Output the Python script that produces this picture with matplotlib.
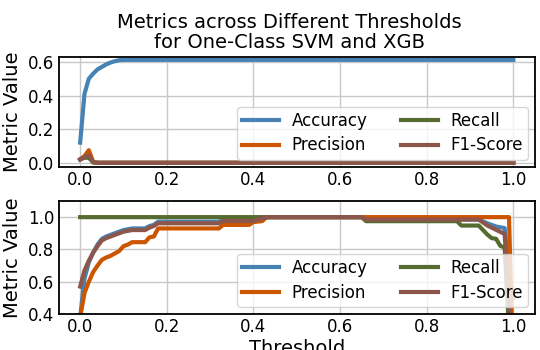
import matplotlib
matplotlib.use("Agg")
import matplotlib.pyplot as plt

# ---------------- data ----------------
# Top panel (One-Class SVM)
svm_acc_t = [0.0, 0.01, 0.02, 0.03, 0.04, 0.05, 0.06, 0.07, 0.08, 0.09, 0.10, 1.0]
svm_acc_v = [0.12, 0.41, 0.50, 0.53, 0.555, 0.57, 0.585, 0.596, 0.604, 0.61, 0.612, 0.612]
svm_prec_t = [0.0, 0.01, 0.02, 0.03, 0.04, 1.0]
svm_prec_v = [0.02, 0.04, 0.075, 0.005, 0.0, 0.0]
svm_rec_t = [0.0, 0.01, 0.02, 0.03, 0.04, 1.0]
svm_rec_v = [0.02, 0.03, 0.03, 0.002, 0.0, 0.0]
svm_f1_t = [0.0, 0.01, 0.02, 0.03, 0.04, 1.0]
svm_f1_v = [0.02, 0.035, 0.045, 0.004, 0.0, 0.0]

# Bottom panel (XGB)
xgb_acc_t = [0.0, 0.01, 0.02, 0.03, 0.04, 0.05, 0.06, 0.07, 0.08, 0.09, 0.10, 0.11, 0.12,
             0.15, 0.16, 0.17, 0.18, 0.32, 0.33, 0.40, 0.41, 0.42, 0.43, 0.65, 0.66,
             0.92, 0.94, 0.96, 0.98, 0.99, 1.0]
xgb_acc_v = [0.38, 0.62, 0.72, 0.78, 0.83, 0.865, 0.88, 0.89, 0.90, 0.91, 0.92, 0.925, 0.93,
             0.93, 0.945, 0.952, 0.972, 0.972, 0.983, 0.983, 0.99, 0.995, 1.0, 1.0, 0.985,
             0.985, 0.962, 0.942, 0.932, 0.65, 0.5]
xgb_prec_t = [0.0, 0.01, 0.02, 0.03, 0.04, 0.05, 0.06, 0.07, 0.08, 0.09, 0.10, 0.11, 0.12,
              0.15, 0.16, 0.17, 0.18, 0.32, 0.33, 0.39, 0.40, 0.42, 0.43, 0.99, 1.0]
xgb_prec_v = [0.38, 0.53, 0.60, 0.66, 0.70, 0.735, 0.75, 0.76, 0.775, 0.79, 0.82, 0.83, 0.845,
              0.845, 0.875, 0.88, 0.93, 0.93, 0.952, 0.952, 0.97, 0.975, 1.0, 1.0, 0.0]
xgb_rec_t = [0.0, 0.65, 0.66, 0.87, 0.88, 0.92, 0.94, 0.95, 0.96, 0.97, 0.98, 0.99, 1.0]
xgb_rec_v = [1.0, 1.0, 0.975, 0.975, 0.948, 0.948, 0.892, 0.87, 0.866, 0.822, 0.812, 0.3, 0.0]
xgb_f1_t = [0.0, 0.01, 0.02, 0.03, 0.04, 0.05, 0.06, 0.07, 0.08, 0.09, 0.10, 0.11, 0.12,
            0.15, 0.16, 0.17, 0.18, 0.32, 0.33, 0.40, 0.41, 0.42, 0.43, 0.65, 0.66,
            0.92, 0.94, 0.96, 0.975, 0.98, 0.99, 1.0]
xgb_f1_v = [0.57, 0.67, 0.73, 0.78, 0.82, 0.855, 0.87, 0.88, 0.89, 0.90, 0.91, 0.915, 0.92,
            0.92, 0.935, 0.945, 0.962, 0.962, 0.976, 0.976, 0.985, 0.99, 1.0, 1.0, 0.985,
            0.985, 0.948, 0.922, 0.902, 0.895, 0.45, 0.0]

labels = ["Accuracy", "Precision", "Recall", "F1-Score"]
colors = ["#4682B4", "#CC5500", "#556B2F", "#8C564B"]
title = "Metrics across Different Thresholds\nfor One-Class SVM and XGB"
xticks = [0.0, 0.2, 0.4, 0.6, 0.8, 1.0]
top_yticks = [0.0, 0.2, 0.4, 0.6]
bot_yticks = [0.4, 0.6, 0.8, 1.0]

# ---------------- figure ----------------
fig = plt.figure(figsize=(5.4, 3.5), dpi=100)
W, H = 540.0, 350.0
L, R = 58.5, 535.0
ax1 = fig.add_axes([L / W, 1 - 167 / H, (R - L) / W, (167 - 56.5) / H])
ax2 = fig.add_axes([L / W, 1 - 314 / H, (R - L) / W, (314 - 201) / H])

top_series = [(svm_acc_t, svm_acc_v), (svm_prec_t, svm_prec_v),
              (svm_rec_t, svm_rec_v), (svm_f1_t, svm_f1_v)]
bot_series = [(xgb_acc_t, xgb_acc_v), (xgb_prec_t, xgb_prec_v),
              (xgb_rec_t, xgb_rec_v), (xgb_f1_t, xgb_f1_v)]

for ax, series in ((ax1, top_series), (ax2, bot_series)):
    for (t, v), lab, c in zip(series, labels, colors):
        ax.plot(t, v, color=c, lw=3, label=lab)
    ax.grid(True, color="#c8c8c8", lw=1)
    ax.set_axisbelow(True)
    ax.set_xticks(xticks)
    ax.set_xlim(-0.05, 1.05)
    ax.set_ylabel("Metric Value", fontsize=14, labelpad=4)
    ax.tick_params(labelsize=12, length=0, pad=3)
    for s in ax.spines.values():
        s.set_linewidth(1.3)
    ax.legend(loc="lower right", ncol=2, fontsize=12, borderpad=0.3,
              labelspacing=0.4, handlelength=2.2, handletextpad=0.75,
              columnspacing=2.0, borderaxespad=0.45)

ax1.set_yticks(top_yticks)
ax1.set_ylim(-0.025, 0.632)
ax2.set_yticks(bot_yticks)
ax2.set_ylim(0.4, 1.1)
ax1.set_title(title, fontsize=14, x=(289 - L) / (R - L), linespacing=1.05)
ax2.set_xlabel("Threshold", fontsize=14, labelpad=2)

fig.savefig("out.png", dpi=100)
